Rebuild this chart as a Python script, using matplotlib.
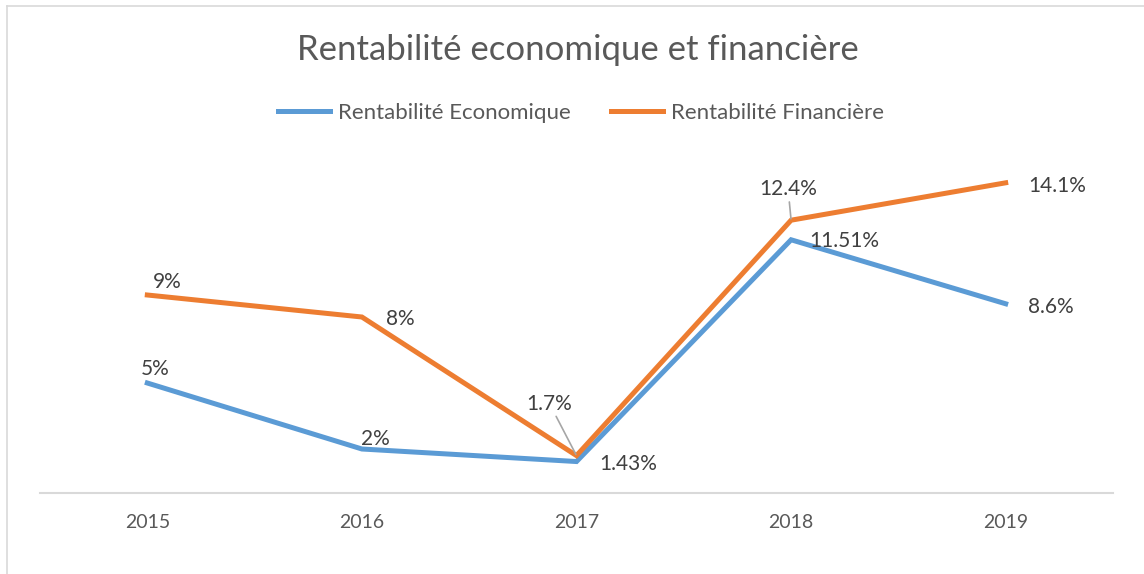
import matplotlib.pyplot as plt
from matplotlib.lines import Line2D

plt.rcParams["font.family"] = ["Lato", "DejaVu Sans"]

years = ["2015", "2016", "2017", "2018", "2019"]
eco = [5, 2, 1.43, 11.51, 8.6]
fin = [9, 8, 1.7, 12.4, 14.1]
eco_labels = ["5%", "2%", "1.43%", "11.51%", "8.6%"]
fin_labels = ["9%", "8%", "1.7%", "12.4%", "14.1%"]

BLUE = "#5B9BD5"
ORANGE = "#ED7D31"
GREY_TXT = "#595959"
LBL_TXT = "#404040"

# label offsets in pixels (dx right, dy down) from the data point
eco_off = [(8, -14), (13, -10), (52, 2), (53, 1), (45, 3)]
fin_off = [(20, -13), (38, 2), (-27, -52), (-3, -31), (52, 3)]
fin_leader = [False, False, True, True, False]

fig = plt.figure(figsize=(11.44, 5.74), dpi=100)
ax = fig.add_axes([40 / 1144, 1 - 493 / 574, (1113 - 40) / 1144, (493 - 141) / 574])

x = list(range(len(years)))
ax.plot(x, eco, color=BLUE, lw=3.6, solid_joinstyle="miter", label="Rentabilité Economique")
ax.plot(x, fin, color=ORANGE, lw=3.6, solid_joinstyle="miter", label="Rentabilité Financière")

px = 0.72  # points per pixel at 100 dpi
for i in x:
    dx, dy = eco_off[i]
    ax.annotate(eco_labels[i], (i, eco[i]), xytext=(dx * px, -dy * px), textcoords="offset points",
                ha="center", va="center", fontsize=15, color=LBL_TXT)
    dx, dy = fin_off[i]
    arrow = dict(arrowstyle="-", color="#A6A6A6", lw=1.2, shrinkA=0, shrinkB=1) if fin_leader[i] else None
    ax.annotate(fin_labels[i], (i, fin[i]), xytext=(dx * px, -dy * px), textcoords="offset points",
                ha="center", va="center", fontsize=15, color=LBL_TXT, arrowprops=arrow)

ax.set_xlim(-0.5, 4.5)
ax.set_ylim(0, 16)
ax.set_xticks(x)
ax.set_xticklabels(years, fontsize=14, color=GREY_TXT)
ax.tick_params(axis="x", length=0, pad=15)
ax.set_yticks([])
for s in ["top", "right", "left"]:
    ax.spines[s].set_visible(False)
ax.spines["bottom"].set_color("#D9D9D9")
ax.spines["bottom"].set_linewidth(1.5)

fig.text(0.505, 1 - 50 / 574, "Rentabilité economique et financière", ha="center", va="center",
         fontsize=25, color=GREY_TXT)

fig.legend(loc="center", bbox_to_anchor=(0.508, 1 - 113 / 574), ncol=2, frameon=False,
           fontsize=16, labelcolor=GREY_TXT, handlelength=2.34, handletextpad=0.36,
           columnspacing=1.8)

# chart area border (top and left edges visible)
fig.add_artist(Line2D([7 / 1144, 1], [1 - 6 / 574, 1 - 6 / 574], transform=fig.transFigure,
                      color="#D9D9D9", lw=1.2))
fig.add_artist(Line2D([7 / 1144, 7 / 1144], [0, 1 - 6 / 574], transform=fig.transFigure,
                      color="#D9D9D9", lw=1.2))

fig.savefig("out.png", dpi=100)
